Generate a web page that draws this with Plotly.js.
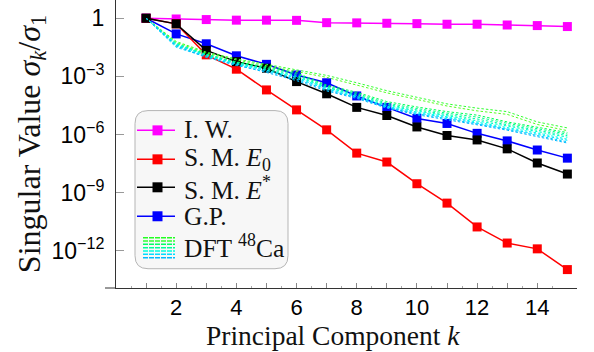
<!DOCTYPE html>
<html>
<head>
<meta charset="utf-8">
<script src="https://cdn.plot.ly/plotly-3.0.1.min.js"></script>
<style>html,body{margin:0;padding:0;background:#fff;}#chart{width:594px;height:352px;}</style>
</head>
<body>
<div id="chart"></div>
<script>
// Principal component index
const k = [1,2,3,4,5,6,7,8,9,10,11,12,13,14,15];

// log10 of singular value ratios
const iwLog  = [0,-0.04,-0.07,-0.10,-0.10,-0.11,-0.23,-0.24,-0.26,-0.28,-0.31,-0.31,-0.35,-0.38,-0.43];
const smE0Log = [0,-0.29,-1.89,-2.63,-3.70,-4.73,-5.76,-6.96,-7.42,-8.54,-9.54,-10.77,-11.60,-11.90,-12.97];
const smEsLog = [0,-0.29,-1.66,-2.24,-2.58,-3.27,-3.90,-4.60,-5.02,-5.61,-6.05,-6.28,-6.74,-7.47,-8.04];
const gpLog  = [0,-0.81,-1.32,-1.94,-2.38,-2.93,-3.33,-4.01,-4.60,-5.17,-5.43,-5.94,-6.33,-6.80,-7.22];

// DFT 48Ca bundle (log10), one row per functional
const dftLog = [
  [0,-1.20,-1.75,-2.10,-2.38,-2.65,-2.95,-3.33,-3.74,-4.08,-4.42,-4.64,-4.82,-5.35,-5.66],
  [0,-1.25,-1.80,-2.15,-2.45,-2.75,-3.05,-3.45,-3.85,-4.19,-4.53,-4.78,-4.96,-5.48,-5.80],
  [0,-1.30,-1.85,-2.25,-2.50,-2.82,-3.45,-3.82,-4.30,-4.58,-4.82,-5.00,-5.35,-5.62,-5.90],
  [0,-1.35,-1.90,-2.28,-2.55,-2.88,-3.50,-3.88,-4.38,-4.66,-4.90,-5.10,-5.42,-5.70,-5.98],
  [0,-1.40,-1.86,-2.30,-2.60,-2.95,-3.55,-3.94,-4.44,-4.73,-4.97,-5.20,-5.50,-5.78,-6.06],
  [0,-1.30,-1.90,-2.34,-2.64,-3.00,-3.58,-3.98,-4.50,-4.79,-5.03,-5.28,-5.56,-5.85,-6.14],
  [0,-1.45,-1.95,-2.38,-2.68,-3.05,-3.61,-4.03,-4.54,-4.84,-5.08,-5.35,-5.62,-5.92,-6.24],
  [0,-1.36,-1.94,-2.35,-2.70,-3.10,-3.65,-4.07,-4.58,-4.89,-5.13,-5.41,-5.68,-5.99,-6.30],
  [0,-1.50,-2.00,-2.44,-2.75,-3.15,-3.69,-4.10,-4.60,-4.93,-5.18,-5.46,-5.73,-6.05,-6.38],
  [0,-1.42,-2.02,-2.40,-2.80,-3.22,-3.75,-4.14,-4.64,-4.98,-5.23,-5.50,-5.78,-6.10,-6.44]
];
const dftColors = ['#33ff33','#55ff22','#00ff55','#00ff88','#00ffaa','#00ffcc','#00ffee','#00e6ff','#00ccff','#00b8ff'];

// Legend labels
const legendNames = ['I. W.', 'S. M. <i>E</i><sub>0</sub>', 'S. M. <i>E</i><sup>*</sup>', 'G.P.', 'DFT <sup>48</sup>Ca'];
const legendColors = ['#ff00ff', '#ff0000', '#000000', '#0000ff'];
const legendStackColors = ['#22ff22','#33ff33','#00ff66','#00ff99','#00ffdd','#00ddff','#00bbff'];

// Axis ticks
const yTickVals = [1, 1e-3, 1e-6, 1e-9, 1e-12];
const yTickText = ['1','10<sup>−3</sup>','10<sup>−6</sup>','10<sup>−9</sup>','10<sup>−12</sup>'];
const xTickVals = [1,2,3,4,5,6,7,8,9,10,11,12,13,14];
const xTickText = ['','2','','4','','6','','8','','10','','12','','14'];
const xMinorVals = [0.5,1.5,2.5,3.5,4.5,5.5,6.5,7.5,8.5,9.5,10.5,11.5,12.5,13.5,14.5];

const toVal = a => a.map(v => Math.pow(10, v));

const serif = "'Liberation Serif', 'Times New Roman', serif";
const sans = "'Liberation Sans', Arial, sans-serif";

function mainTrace(name, logs, color) {
  return {
    x: k, y: toVal(logs), name: name, type: 'scatter', mode: 'lines+markers',
    line: {color: color, width: 1.5},
    marker: {symbol: 'square', size: 9, color: color},
    showlegend: false
  };
}

const traces = [
  mainTrace('I. W.', iwLog, legendColors[0]),
  mainTrace('G.P.', gpLog, legendColors[3]),
  mainTrace('S. M. E0', smE0Log, legendColors[1]),
  mainTrace('S. M. E*', smEsLog, legendColors[2])
];
dftLog.forEach((row, i) => {
  traces.push({
    x: k, y: toVal(row), type: 'scatter', mode: 'lines', showlegend: false, name: 'DFT 48Ca',
    line: {color: dftColors[i], width: 1, dash: '2.5px,2px'}
  });
});

// geometry helpers (pixel -> paper)
const L = 116, R = 577, T = 0, B = 288.3;
const px = x => (x - L) / (R - L);
const py = y => (B - y) / (B - T);

const bx0 = px(135), bx1 = px(288), by1 = py(110.7), by0 = py(269);
const rx = 13 / (R - L), ry = 13 / (B - T);
const boxPath = `M${bx0+rx},${by1} L${bx1-rx},${by1} Q${bx1},${by1} ${bx1},${by1-ry} L${bx1},${by0+ry} Q${bx1},${by0} ${bx1-rx},${by0} L${bx0+rx},${by0} Q${bx0},${by0} ${bx0},${by0+ry} L${bx0},${by1-ry} Q${bx0},${by1} ${bx0+rx},${by1} Z`;

const shapes = [
  {type: 'path', xref: 'paper', yref: 'paper', path: boxPath, fillcolor: '#f7f7f7',
   line: {color: '#b5b5b5', width: 1}, layer: 'above'},
  {type: 'line', xref: 'paper', yref: 'paper', x0: px(105), x1: 0, y0: 0, y1: 0,
   line: {color: '#333', width: 1}, layer: 'above'}
];
const annotations = [];
const rowY = [130.5, 159.5, 187.5, 216.5];
rowY.forEach((y, i) => {
  shapes.push({type: 'line', xref: 'paper', yref: 'paper', x0: px(137), x1: px(175),
    y0: py(y), y1: py(y), line: {color: legendColors[i], width: 1.5}, layer: 'above'});
  shapes.push({type: 'rect', xref: 'paper', yref: 'paper', x0: px(152.5), x1: px(162.5),
    y0: py(y - 5), y1: py(y + 5), fillcolor: legendColors[i], line: {width: 0}, layer: 'above'});
});
const stackY = [238, 241.3, 244.6, 247.9, 251.2, 254.5, 258];
legendStackColors.forEach((c, i) => {
  shapes.push({type: 'line', xref: 'paper', yref: 'paper', x0: px(143), x1: px(175),
    y0: py(stackY[i]), y1: py(stackY[i]), line: {color: c, width: 1.5, dash: '5px,1px'}, layer: 'above'});
});
const textY = [130, 159.5, 188.5, 217, 247];
legendNames.forEach((t, i) => {
  annotations.push({xref: 'paper', yref: 'paper', x: px(182), y: py(textY[i]), xanchor: 'left', yanchor: 'middle',
    text: t, showarrow: false, font: {family: serif, size: 25.5, color: '#111'}});
});

const layout = {
  width: 594, height: 352,
  margin: {l: L, r: 594 - R, t: T, b: 352 - B},
  paper_bgcolor: '#fff', plot_bgcolor: '#fff',
  showlegend: false,
  xaxis: {
    range: [0, 15.32], showgrid: false, zeroline: false, showline: true, linecolor: '#333', linewidth: 1,
    tickmode: 'array', tickvals: xTickVals, ticktext: xTickText, ticks: 'inside', ticklen: 5,
    tickcolor: '#888', tickwidth: 1, ticklabelstandoff: 0,
    minor: {tickvals: xMinorVals, ticks: 'inside', ticklen: 2.5, tickcolor: '#aaa', tickwidth: 1, showgrid: false},
    tickfont: {family: sans, size: 22, color: '#000'},
    title: {text: 'Principal Component <i>k</i>&nbsp;&nbsp;&nbsp;&nbsp;', font: {family: serif, size: 27.5, color: '#111'}, standoff: 0}
  },
  yaxis: {
    type: 'log', range: [-13.92, 0.94], showgrid: false, zeroline: false, showline: true,
    linecolor: '#333', linewidth: 1, tickmode: 'array', tickvals: yTickVals, ticktext: yTickText,
    ticks: 'inside', ticklen: 8, tickcolor: '#999', tickwidth: 1, ticklabelstandoff: 6,
    tickfont: {family: sans, size: 23, color: '#000'},
    title: {text: 'Singular Value <i>σ</i><sub><i>k</i></sub>/<i>σ</i><sub>1</sub>', font: {family: serif, size: 32, color: '#111'}, standoff: 1}
  },
  shapes: shapes,
  annotations: annotations
};

Plotly.newPlot('chart', traces, layout, {displayModeBar: false, staticPlot: true});
</script>
</body>
</html>
